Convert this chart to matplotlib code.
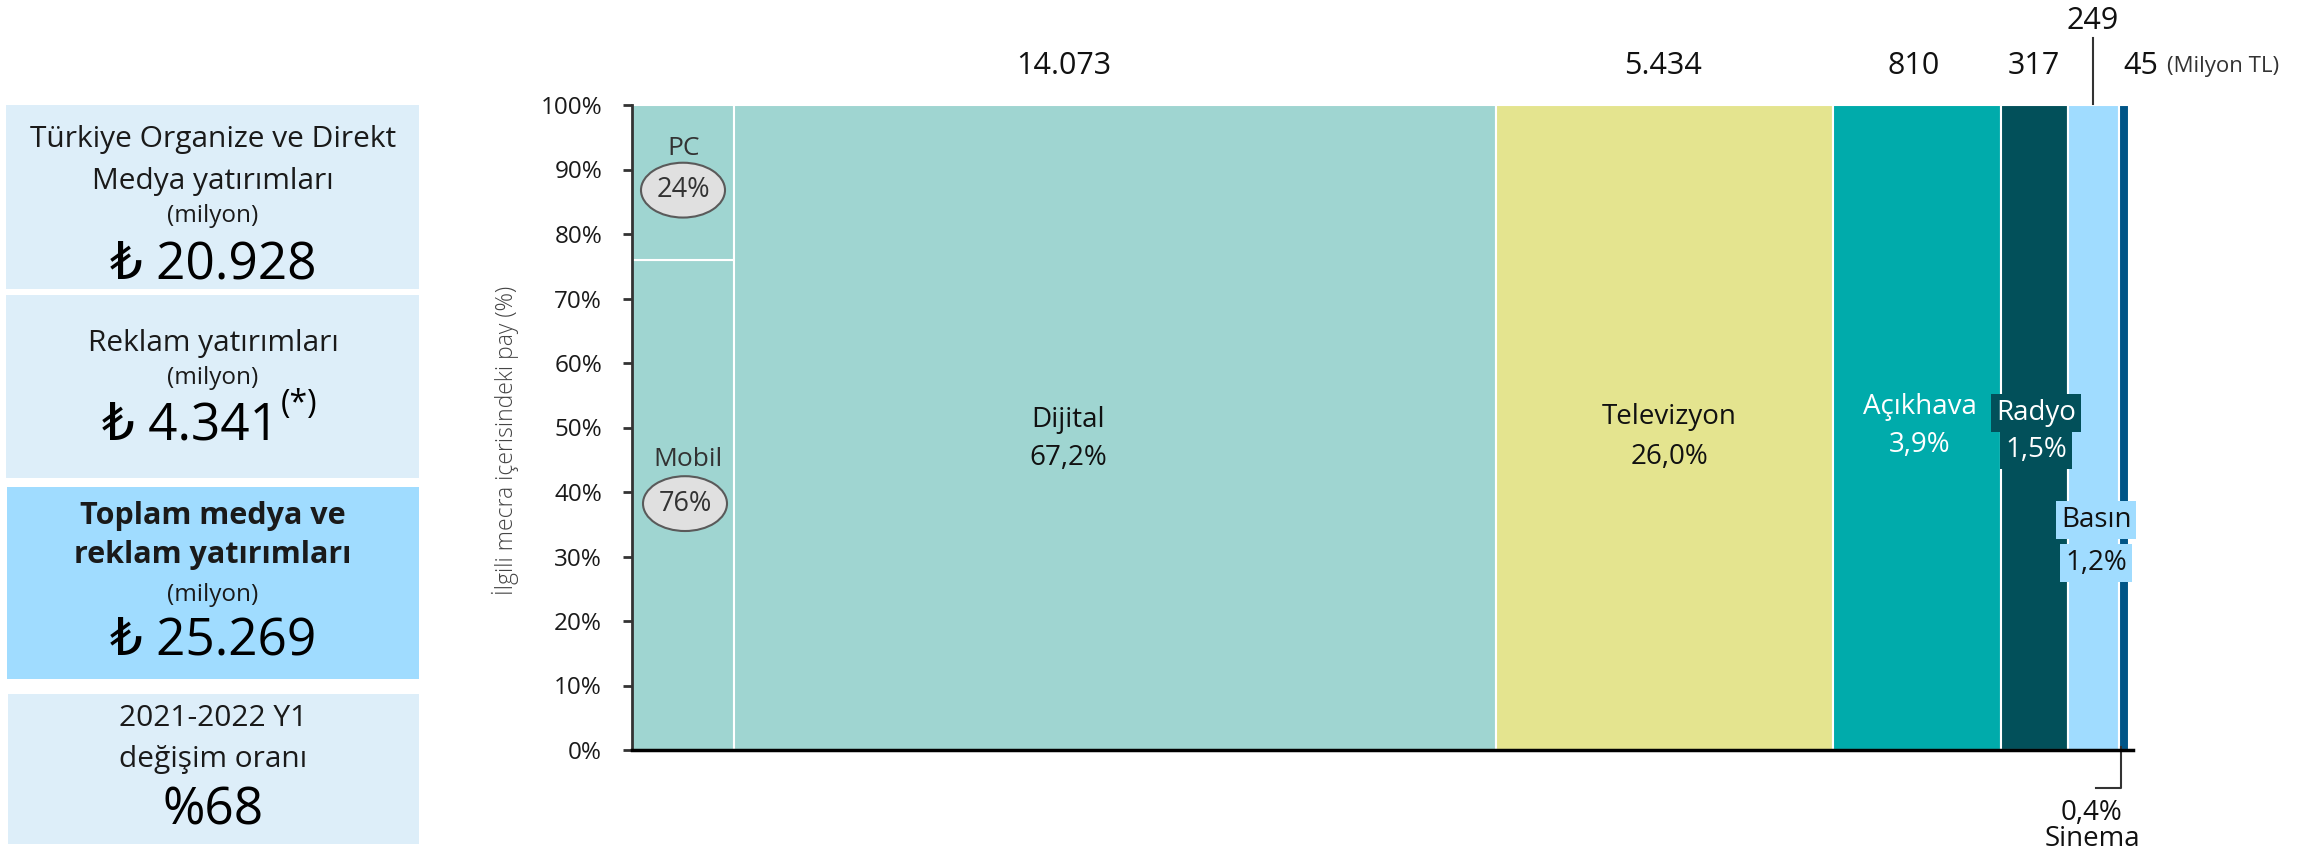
import matplotlib
matplotlib.use('Agg')
import matplotlib.pyplot as plt
from matplotlib.patches import Rectangle, Ellipse

plt.rcParams['font.family'] = ['Open Sans', 'DejaVu Sans']

# ---------------- data ----------------
media = ['Dijital', 'Televizyon', 'Açıkhava', 'Radyo', 'Basın', 'Sinema']
spend_labels = ['14.073', '5.434', '810', '317', '249', '45']
share_labels = ['67,2%', '26,0%', '3,9%', '1,5%', '1,2%', '0,4%']
column_share = [100, 100, 100, 100, 100, 100]
digital_parts = ['Mobil', 'PC']
digital_split = [76, 24]
digital_split_labels = ['76%', '24%']
yticks = [0, 10, 20, 30, 40, 50, 60, 70, 80, 90, 100]
ytick_labels = ['0%', '10%', '20%', '30%', '40%', '50%', '60%', '70%', '80%', '90%', '100%']
unit_label = '(Milyon TL)'
ylabel = 'İlgili mecra içerisindeki pay (%)'

panel_titles = [['Türkiye Organize ve Direkt', 'Medya yatırımları'],
                ['Reklam yatırımları'],
                ['Toplam medya ve', 'reklam yatırımları'],
                ['2021-2022 Y1', 'değişim oranı']]
panel_units = ['(milyon)', '(milyon)', '(milyon)', None]
panel_values = ['₺ 20.928', '₺ 4.341', '₺ 25.269', '%68']
panel_note = '(*)'

# ---------------- style / layout ----------------
col_colors = ['#9FD5D1', '#E4E48F', '#00ABAB', '#02505A', '#A0DCFF', '#005587']
split_color = '#9FD5D1'
panel_bg = ['#DDEEF9', '#DDEEF9', '#A0DCFF', '#DDEEF9']
col_widths = [102, 762, 337, 168, 67, 51, 10]   # split column + media columns (px)
W, H = 2310, 852
ax_left, ax_top, ax_bottom, ax_right = 632, 105, 750, 2133

fig = plt.figure(figsize=(W / 100, H / 100), dpi=100)

# background overlay in pixel coordinates for the left panels
bg = fig.add_axes([0, 0, 1, 1])
bg.set_xlim(0, W)
bg.set_ylim(H, 0)
bg.axis('off')

panel_boxes = [(6, 105, 413, 184), (6, 295, 413, 183), (7, 487, 412, 192), (8, 694, 411, 150)]
panel_line_y = [[140, 181], [343], [516, 555], [718, 760]]
panel_unit_y = [216, 378, 595, None]
panel_value_y = [265, 426, 641, 811]
cx = 213
txt_col = '#1a1a1a'
for i in range(4):
    x0, y0, w, h = panel_boxes[i]
    bg.add_patch(Rectangle((x0, y0), w, h, facecolor=panel_bg[i], edgecolor='none'))
    bold = (i == 2)
    for t, yy in zip(panel_titles[i], panel_line_y[i]):
        bg.text(cx, yy, t, ha='center', va='center', fontsize=22 if bold else 21.5,
                fontweight='bold' if bold else 'normal', color=txt_col)
    if panel_units[i]:
        bg.text(cx, panel_unit_y[i], panel_units[i], ha='center', va='center',
                fontsize=17.5, color=txt_col)
    if i == 1:
        bg.text(279, panel_value_y[i], panel_values[i], ha='right', va='center',
                fontsize=37, color='black')
        bg.text(281, 405, panel_note, ha='left', va='center', fontsize=23, color='black')
    else:
        bg.text(cx, panel_value_y[i], panel_values[i], ha='center', va='center',
                fontsize=37, color='black')

bg.text(505, 440, ylabel, rotation=90, ha='center', va='center', fontsize=16.5,
        fontweight='light', color='#444444')

# ---------------- main chart ----------------
ax = fig.add_axes([ax_left / W, (H - ax_bottom) / H, (ax_right - ax_left) / W,
                   (ax_bottom - ax_top) / H])
ax.set_xlim(0, ax_right - ax_left)
ax.set_ylim(0, 100)

lefts = [0]
for w in col_widths[:-1]:
    lefts.append(lefts[-1] + w)

# digital split column
bottom = 0
for val in digital_split:
    ax.bar(lefts[0], val, width=col_widths[0], bottom=bottom, align='edge',
           color=split_color, edgecolor='white', linewidth=1.5)
    bottom += val
# media columns
ax.bar(lefts[1:], column_share, width=col_widths[1:], align='edge',
       color=col_colors, edgecolor='white', linewidth=1.5)

# axes styling
for s in ['top', 'right']:
    ax.spines[s].set_visible(False)
ax.spines['left'].set_color('#333333')
ax.spines['left'].set_linewidth(2)
ax.spines['bottom'].set_color('black')
ax.spines['bottom'].set_linewidth(2.5)
ax.set_xticks([])
ax.set_yticks(yticks)
ax.set_yticklabels(ytick_labels)
ax.tick_params(axis='y', length=6.5, width=2, pad=15, labelsize=17.5,
               color='#333333', labelcolor='#1a1a1a')

# PC / Mobil labels with ellipses
split_name_pos = [(56, 45.0), (52, 93.3)]
split_ell_pos = [(53, 38.2), (51, 86.8)]
for name, lab, (nx, ny), (ex, ey) in zip(digital_parts, digital_split_labels,
                                         split_name_pos, split_ell_pos):
    ax.text(nx, ny, name, ha='center', va='center', fontsize=19, color='#333333')
    ax.add_patch(Ellipse((ex, ey), 84, 8.5, facecolor='#E0E0E0', edgecolor='#5a5a5a',
                         linewidth=1.5))
    ax.text(ex, ey, lab, ha='center', va='center', fontsize=19.5, color='#333333')

# column labels
lab_x = [436, 1037, 1288, 1404, 1464]
name_y = [51.2, 51.6, 53.2, 52.2, 35.7]
val_y = [45.3, 45.4, 47.3, 46.5, 29.0]
lab_color = ['#111111', '#111111', 'white', 'white', '#111111']
for i in range(5):
    kw = {}
    if i == 3:
        kw = dict(bbox=dict(boxstyle='square,pad=0.18', fc=col_colors[3], ec='none'))
    if i == 4:
        kw = dict(bbox=dict(boxstyle='square,pad=0.18', fc=col_colors[4], ec='none'))
    ax.text(lab_x[i], name_y[i], media[i], ha='center', va='center', fontsize=20,
            color=lab_color[i], **kw)
    ax.text(lab_x[i], val_y[i], share_labels[i], ha='center', va='center', fontsize=20,
            color=lab_color[i], **kw)

# Sinema label below axis with connector
ax.plot([1489, 1489, 1464], [0.5, -5.9, -5.9], color='#333333', lw=1.5, clip_on=False)
ax.text(1460, -9.8, share_labels[5], ha='center', va='center', fontsize=20,
        color='#111111', clip_on=False)
ax.text(1460, -13.8, media[5], ha='center', va='center', fontsize=20,
        color='#111111', clip_on=False)

# top spend labels
top_x = [432, 1031, 1282, 1402, 1461, 1509]
top_y = [106, 106, 106, 106, 113, 106]
for x, y, t in zip(top_x, top_y, spend_labels):
    ax.text(x, y, t, ha='center', va='center', fontsize=22, color='#111111', clip_on=False)
ax.plot([1461, 1461], [100.2, 110.4], color='#333333', lw=1.5, clip_on=False)
ax.text(1535, 106, unit_label, ha='left', va='center', fontsize=16, color='#333333',
        clip_on=False)

fig.savefig('out.png', dpi=100)
